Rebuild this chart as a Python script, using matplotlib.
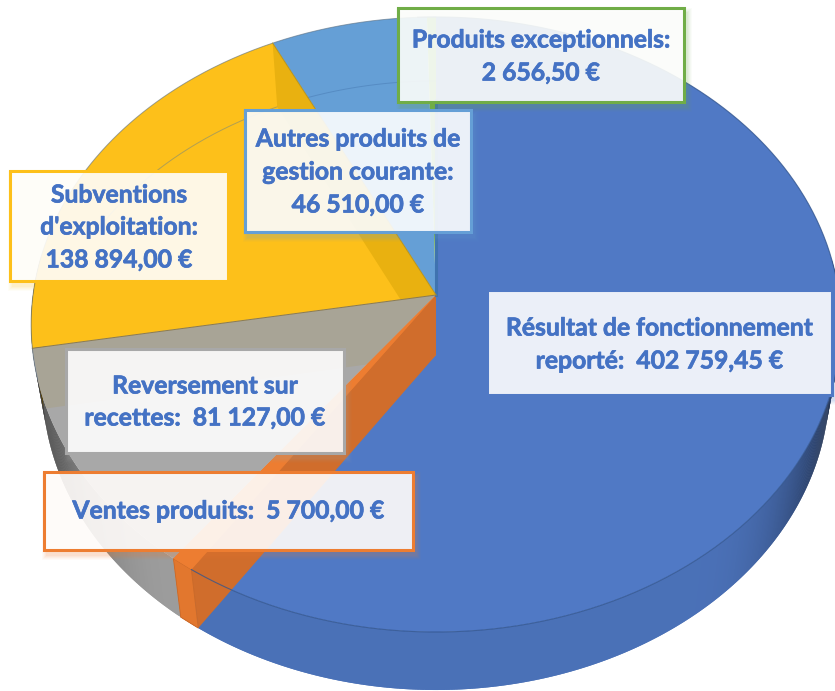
import numpy as np
import matplotlib
matplotlib.use("Agg")
import matplotlib.pyplot as plt
import matplotlib.patheffects as pe
from matplotlib.patches import Polygon, Rectangle
from matplotlib.colors import to_rgb

# ---- data
categories = ["Résultat de fonctionnement reporté", "Ventes produits", "Reversement sur recettes",
              "Subventions d'exploitation", "Autres produits de gestion courante", "Produits exceptionnels"]
values = [402759.45, 5700.00, 81127.00, 138894.00, 46510.00, 2656.50]
colors = ["#5079c5", "#ed7d31", "#a8a8a8", "#fdc01a", "#659fd6", "#70ad47"]
label_lines = [["Résultat de fonctionnement", "reporté:  402 759,45 €"],
               ["Ventes produits:  5 700,00 €"],
               ["Reversement sur", "recettes:  81 127,00 €"],
               ["Subventions", "d'exploitation:", "138 894,00 €"],
               ["Autres produits de", "gestion courante:", "46 510,00 €"],
               ["Produits exceptionnels:", "2 656,50 €"]]

# ---- layout (pixels)
boxes = [(487, 290, 832, 395), (44, 472, 413, 550), (66, 349, 344, 453),
         (10, 171, 228, 281), (245, 110, 471, 232), (398, 8, 684, 102)]
line_y = [[328, 361], [511], [386, 418], [195, 227, 260], [139, 172, 205], [40, 73]]
apex = np.array([436.0, 295.0])
A, B, K = 403.0, 304.7, 0.0959
BASE_SCALE = 0.972
def thick(v):
    return 61 + 3 * np.asarray(v)

def rim(theta, bottom=False):
    """Perspective projection of a pie rim point at clockwise angle theta (radians from top)."""
    u, v = np.sin(theta), np.cos(theta)
    w = 1 + K * v
    x = A * u / w
    y = apex[1] - B * v / w
    if bottom:
        y = y + thick(v)
        x = x * BASE_SCALE
    x = apex[0] + x
    return np.column_stack([np.atleast_1d(x), np.atleast_1d(y)])

def centre(bottom=False):
    return apex + (np.array([0, 60.0]) if bottom else 0)

def shade(c, f):
    return tuple(min(1, x * f) for x in to_rgb(c))

edges = np.concatenate([[0], np.cumsum(values)]) / np.sum(values) * 2 * np.pi
fig = plt.figure(figsize=(8.35, 6.91), dpi=100)
ax = fig.add_axes([0, 0, 1, 1])
ax.set_xlim(0, 835); ax.set_ylim(691, 0); ax.axis("off")

# outer walls, with a darkening towards the silhouette
for i, c in enumerate(colors):
    th = np.arange(edges[i], edges[i + 1], 0.006)
    for t0 in th:
        if np.cos(t0) > 0.12:
            continue
        t1 = min(t0 + 0.012, edges[i + 1])
        u = abs(np.sin(t0))
        f = 0.93 - 0.62 * max(0, (u - 0.6) / 0.4) ** 2.2
        q = np.vstack([rim(t0), rim(t1), rim(t1, True), rim(t0, True)])
        ax.add_patch(Polygon(q, closed=True, fc=shade(c, f), ec="none", zorder=1))

# top faces
for i, c in enumerate(colors):
    th = np.linspace(edges[i], edges[i + 1], 200)
    poly = np.vstack([apex, rim(th)])
    ax.add_patch(Polygon(poly, closed=True, fc=c, ec="none", zorder=2))

# far rim of the base seen through the top, on the upper slices
th = np.linspace(edges[3] + 0.6, edges[-1], 200)
ax.plot(*rim(th, True).T, color="#3f6fa8", lw=0.7, alpha=0.4, zorder=3)

# inner cut faces seen through the top
def cut_face(t):
    return np.vstack([apex, rim(t), rim(t, True), centre(True)])

# yellow face near the light blue slice, clipped by the yellow wedge
f1 = Polygon(cut_face(edges[4]), closed=True, fc="#e9b110", ec="none", zorder=3)
ax.add_patch(f1)
y_th = np.linspace(edges[3], edges[4], 200)
f1.set_clip_path(Polygon(np.vstack([apex, rim(y_th)]), closed=True, transform=ax.transData))

# beige face of the yellow/grey cut, clipped by the grey wedge
f2 = Polygon(cut_face(edges[3]), closed=True, fc="#a8a496", ec="none", zorder=3)
ax.add_patch(f2)
g_th = np.linspace(edges[2], edges[3], 200)
f2.set_clip_path(Polygon(np.vstack([apex, rim(g_th)]), closed=True, transform=ax.transData))

# orange slice and its cut faces
ax.add_patch(Polygon(cut_face(edges[2]), closed=True, fc="#e57a30", ec="none", zorder=4))
ax.add_patch(Polygon(cut_face(edges[1]), closed=True, fc="#d06d2c", ec="none", zorder=4))
ax.add_patch(Polygon(np.vstack([rim(edges[1]), rim(edges[2]), rim(edges[2], True), rim(edges[1], True)]),
                     closed=True, fc="#e2772e", ec="#c8692a", lw=0.6, zorder=4))
ax.add_patch(Polygon(np.vstack([apex, rim(edges[1]), rim(edges[2])]),
                     closed=True, fc="#ed7d31", ec="none", zorder=4))

# dark seam at the blue slice start and rim lines
ax.plot([apex[0], apex[0]], [apex[1], 100], color="#3f73b0", lw=2.2, zorder=4)
th = np.linspace(-0.05, edges[1], 400)
ax.plot(*rim(th).T, color="#33568f", lw=0.8, alpha=0.8, zorder=5)
th = np.linspace(edges[3] - 0.1, edges[-1], 300)
ax.plot(*rim(th).T, color="#5c6f80", lw=0.7, alpha=0.6, zorder=5)
for e, col in [(edges[3], "#8a7a50"), (edges[4], "#b8931c")]:
    ax.plot(*np.vstack([apex, rim(e)]).T, color=col, lw=0.7, zorder=5)

# labels
border = colors
for (x0, y0, x1, y1), ec, lines, ys in zip(boxes, border, label_lines, line_y):
    for d, a in [(10, 0.03), (8, 0.04), (6, 0.05), (4, 0.06), (2, 0.07)]:
        ax.add_patch(Rectangle((x0 + 3 - d / 2, y0 + 5 - d / 2), x1 - x0 + d, y1 - y0 + d,
                               fc=ec, ec="none", alpha=a, zorder=6))
    ax.add_patch(Rectangle((x0, y0), x1 - x0, y1 - y0, fc=(1, 1, 1, 0.89), ec=ec, lw=2.2, zorder=7))
    for s, y in zip(lines, ys):
        ax.text((x0 + x1) / 2, y, s, ha="center", va="center", color="#4472c4",
                family="Lato", weight="bold", fontsize=17.8, zorder=8,
                path_effects=[pe.withStroke(linewidth=0.5, foreground="#4472c4")])

fig.savefig("out.png", dpi=100)
